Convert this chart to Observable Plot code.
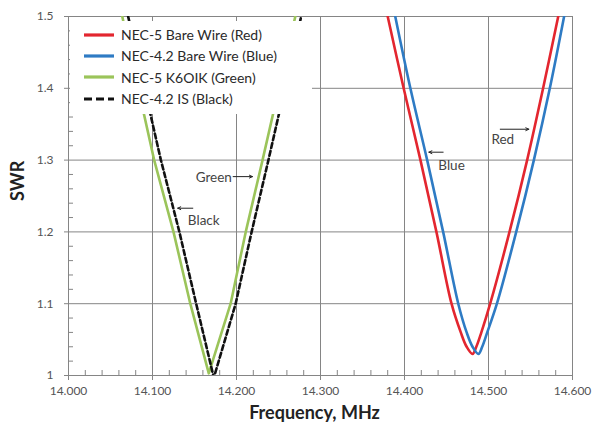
<!DOCTYPE html>
<html><head><meta charset="utf-8">
<script src="https://cdn.jsdelivr.net/npm/d3@7"></script>
<script src="https://cdn.jsdelivr.net/npm/@observablehq/plot@0.6"></script>
<style>
body{margin:0;background:#fff;}
#wrap{position:relative;width:596px;height:436px;font-family:Lato,"Open Sans",sans-serif;}
#legend{position:absolute;left:70px;top:21px;width:242px;background:#fff;padding:3px 0 5px 0;}
.row{display:flex;align-items:center;height:21.3px;font-size:14px;color:#2a2a2a;white-space:nowrap;}
.row svg{margin-left:14px;margin-right:7px;}
</style></head><body><div id="wrap"><div id="legend"></div></div>
<script>
// Series
const seriesNames = ["NEC-5 Bare Wire (Red)", "NEC-4.2 Bare Wire (Blue)", "NEC-5 K6OIK (Green)", "NEC-4.2 IS (Black)"];
const seriesColors = ["#e3262f", "#2e7bc4", "#9bc45a", "#111111"];
const seriesDash = [null, null, null, "5,3"];

const redFreq  = [14.380, 14.399, 14.419, 14.438, 14.456, 14.467, 14.474, 14.481, 14.4855, 14.4915, 14.502, 14.525, 14.546, 14.565, 14.583];
const redSWR   = [1.5, 1.4, 1.3, 1.2, 1.1, 1.06, 1.04, 1.03, 1.04, 1.06, 1.1, 1.2, 1.3, 1.4, 1.5];
const blueFreq = [14.389, 14.407, 14.427, 14.446, 14.464, 14.474, 14.481, 14.488, 14.4925, 14.4985, 14.510, 14.533, 14.554, 14.573, 14.590];
const blueSWR  = [1.5, 1.4, 1.3, 1.2, 1.1, 1.06, 1.04, 1.03, 1.04, 1.06, 1.1, 1.2, 1.3, 1.4, 1.5];
const greenFreq = [14.064, 14.102, 14.125, 14.145, 14.167, 14.193, 14.211, 14.231, 14.270];
const greenSWR  = [1.5, 1.3, 1.2, 1.1, 1.003, 1.1, 1.2, 1.3, 1.5];
const blackFreq = [14.071, 14.110, 14.132, 14.152, 14.173, 14.199, 14.218, 14.238, 14.277];
const blackSWR  = [1.5, 1.3, 1.2, 1.1, 0.997, 1.1, 1.2, 1.3, 1.5];

// Axes
const xTicks = [14.0, 14.1, 14.2, 14.3, 14.4, 14.5, 14.6];
const yTicks = [1.0, 1.1, 1.2, 1.3, 1.4, 1.5];
const xMinor = [14.02,14.04,14.06,14.08,14.12,14.14,14.16,14.18,14.22,14.24,14.26,14.28,14.32,14.34,14.36,14.38,14.42,14.44,14.46,14.48,14.52,14.54,14.56,14.58];
const yMinor = [1.02,1.04,1.06,1.08,1.12,1.14,1.16,1.18,1.22,1.24,1.26,1.28,1.32,1.34,1.36,1.38,1.42,1.44,1.46,1.48];
const xTitle = "Frequency, MHz";
const yTitle = "SWR";

// Annotations
const annLabels = ["Green", "Black", "Blue", "Red"];
const annX = [14.173, 14.161, 14.456, 14.517];
const annY = [1.276, 1.216, 1.292, 1.329];
const arrX1 = [14.196, 14.148, 14.446, 14.514];
const arrX2 = [14.219, 14.130, 14.429, 14.548];
const arrY  = [1.277, 1.233, 1.311, 1.343];

const freqs = [redFreq, blueFreq, greenFreq, blackFreq];
const swrs = [redSWR, blueSWR, greenSWR, blackSWR];
const rows = [];
seriesNames.forEach((s, k) => freqs[k].forEach((f, i) => rows.push({series: s, f, swr: swrs[k][i]})));
const ann = annLabels.map((t, i) => ({t, x: annX[i], y: annY[i]}));
const arrows = arrX1.map((x1, i) => ({x1, x2: arrX2[i], y: arrY[i]}));

const font = "Lato, 'Open Sans', sans-serif";
const lineMarks = seriesNames.map((s, k) => Plot.line(rows.filter(d => d.series === s), {
  x: "f", y: "swr", stroke: seriesColors[k], strokeWidth: 2.6, curve: k < 2 ? "catmull-rom" : "linear",
  strokeDasharray: seriesDash[k] || undefined, clip: true
}));

const chart = Plot.plot({
  width: 596, height: 436,
  marginLeft: 68, marginRight: 24, marginTop: 16, marginBottom: 61,
  style: {fontFamily: font, background: "#fff"},
  x: {domain: [14.0, 14.6]},
  y: {domain: [1.0, 1.5]},
  marks: [
    Plot.gridX(xTicks, {stroke: "#858585", strokeOpacity: 1}),
    Plot.gridY(yTicks, {stroke: "#858585", strokeOpacity: 1}),
    Plot.frame({stroke: "#858585"}),
    Plot.tickX(xMinor, {x: d => d, stroke: "#858585", insetTop: 354}),
    Plot.tickY(yMinor, {y: d => d, stroke: "#858585", insetRight: 499}),
    Plot.axisX(xTicks, {tickSize: 5, tickPadding: 6, tickFormat: d3.format(".3f"), fontSize: 12, label: null, stroke: "#858585", fill: "#555"}),
    Plot.axisY(yTicks, {tickSize: 4, tickPadding: 11, tickFormat: d => d === 1 ? "1" : d.toFixed(1), fontSize: 12, label: null, stroke: "#858585", fill: "#555"}),
    ...lineMarks,
    Plot.arrow(arrows, {x1: "x1", x2: "x2", y1: "y", y2: "y", stroke: "#222", strokeWidth: 1, headLength: 5, headAngle: 50}),
    Plot.text(ann, {x: "x", y: "y", text: "t", fontSize: 13.5, fill: "#444"}),
    Plot.text([yTitle], {frameAnchor: "left", dx: -50, dy: 5, rotate: -90, fontSize: 18, fontWeight: "bold", fill: "#222"}),
    Plot.text([xTitle], {frameAnchor: "bottom", dx: -6, dy: 43, fontSize: 18, fontWeight: "bold", fill: "#222"})
  ]
});
const wrap = document.getElementById("wrap");
wrap.insertBefore(chart, wrap.firstChild);

const legend = document.getElementById("legend");
seriesNames.forEach((s, k) => {
  const row = document.createElement("div");
  row.className = "row";
  row.innerHTML = `<svg width="30" height="6"><line x1="0" y1="3" x2="30" y2="3" stroke="${seriesColors[k]}" stroke-width="3.2" ${seriesDash[k] ? `stroke-dasharray="8,4"` : ""}/></svg><span>${s}</span>`;
  legend.appendChild(row);
});
</script>
</body></html>
